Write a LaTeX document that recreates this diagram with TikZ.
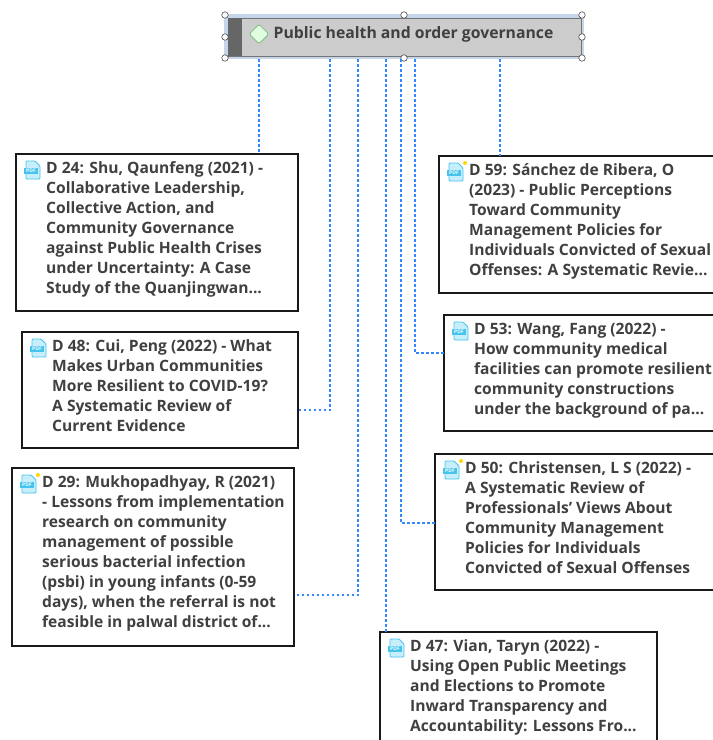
\documentclass[tikz,border=0pt]{standalone}
\usetikzlibrary{shapes.geometric}
\usepackage{fontspec}
\setmainfont{Open Sans}
\definecolor{txt}{HTML}{404040}
\definecolor{lnk}{HTML}{3388FF}
\definecolor{pdfl}{HTML}{C8EEFB}
\definecolor{pdfd}{HTML}{45C4EE}
\definecolor{sel}{HTML}{C5D6EA}
\tikzset{
  x=1pt,y=-1pt,
  pdfnum/.style={font=\bfseries\fontsize{5}{5}\selectfont,text=white,inner sep=0pt},
  docbox/.style={draw=black!90,fill=white,line width=1.6pt,anchor=north west,inner sep=0pt,outer sep=0pt},
  doctext/.style={anchor=north west,align=left,text=txt,inner sep=0pt,
    font=\bfseries\fontsize{15.6}{20}\selectfont},
  link/.style={draw=lnk,line width=1.1pt,dash pattern=on 2.5pt off 2.5pt},
  handle/.style={circle,draw=black!70,fill=white,line width=0.6pt,inner sep=0pt,minimum size=6.5pt},
  newdot/.style={circle,fill=yellow!75!orange,inner sep=0pt,minimum size=4pt}
}
% name, x, y, w, h, lines
\newcommand{\docnode}[6]{%
  \node[docbox,minimum width=#4pt,minimum height=#5pt] (#1) at (#2,#3) {};
  \node[doctext] (#1t) at ([xshift=30pt,yshift=-7.6pt]#1.north west) {#6};
  \begin{scope}[shift={(#1.north west)},x=1pt,y=-1pt]
    \fill[pdfl,draw=pdfd,line width=0.8pt,rounded corners=1pt] (10,7) -- (19,7) -- (24,12) -- (24,25) -- (10,25) -- cycle;
    \fill[pdfd] (8,14) rectangle (22,20);
    \node[pdfnum] (#1i) at (15,17) {PDF};
  \end{scope}}
\newcommand{\newmark}[1]{\node[newdot] (#1d) at ([xshift=26pt,yshift=-7pt]#1.north west) {};}
\begin{document}
\begin{tikzpicture}
\useasboundingbox (0,0) rectangle (713,740);
\clip (0,0) rectangle (713,740);
\fill[white] (0,0) rectangle (713,740);

% header
\node[draw=sel,line width=3.5pt,minimum width=356pt,minimum height=41pt,inner sep=0pt,outer sep=0pt,anchor=north west] (sel) at (226,16) {};
\node[fill=black!20,draw=black!55,line width=1pt,minimum width=353pt,minimum height=38pt,inner sep=0pt,outer sep=0pt,anchor=north west] (top) at (228,18) {};
\fill[black!60] (228,18) rectangle (242,56);
\node[diamond,aspect=1,draw=green!45!black!45,fill=green!12,line width=1pt,minimum size=20pt,inner sep=0pt,rounded corners=1.5pt] (dia) at (259,34) {};
\node[anchor=west,text=txt,inner sep=0pt,font=\bfseries\fontsize{15.75}{18}\selectfont] (title) at (273.5,34) {Public health and order governance};
\foreach \n/\x/\y in {h1/225/15,h2/404/15,h3/582/15,h4/225/37,h5/582/37,h6/225/58,h7/404/58,h8/582/58}
  \node[handle] (\n) at (\x,\y) {};

% documents
\docnode{d24}{16}{154}{282}{157}{D 24: Shu, Qaunfeng (2021) -\\Collaborative Leadership,\\Collective Action, and\\Community Governance\\against Public Health Crises\\under Uncertainty: A Case\\Study of the Quanjingwan...}
\docnode{d48}{22}{332}{276}{116}{D 48: Cui, Peng (2022) - What\\Makes Urban Communities\\More Resilient to COVID-19?\\A Systematic Review of\\Current Evidence}
\docnode{d29}{12}{468}{282}{178}{D 29: Mukhopadhyay, R (2021)\\- Lessons from implementation\\research on community\\management of possible\\serious bacterial infection\\(psbi) in young infants (0-59\\days), when the referral is not\\feasible in palwal district of...}
\docnode{d59}{439}{156}{290}{137}{D 59: Sánchez de Ribera, O\\(2023) - Public Perceptions\\Toward Community\\Management Policies for\\Individuals Convicted of Sexual\\Offenses: A Systematic Revie...}
\docnode{d53}{444}{315}{290}{116}{D 53: Wang, Fang (2022) -\\How community medical\\facilities can promote resilient\\community constructions\\under the background of pa...}
\docnode{d50}{435}{454}{290}{136}{D 50: Christensen, L S (2022) -\\A Systematic Review of\\Professionals’ Views About\\Community Management\\Policies for Individuals\\Convicted of Sexual Offenses}
\docnode{d47}{380}{632}{277}{130}{D 47: Vian, Taryn (2022) -\\Using Open Public Meetings\\and Elections to Promote\\Inward Transparency and\\Accountability: Lessons Fro...}
\newmark{d29}\newmark{d59}\newmark{d50}

% connectors
\coordinate (c24) at (259,59);
\coordinate (c48) at (330,59);
\coordinate (c29) at (358,59);
\coordinate (c47) at (386,59);
\coordinate (c50) at (401,59);
\coordinate (c53) at (415,59);
\coordinate (c59) at (500,59);
\coordinate (e48) at (298,410);
\coordinate (e29) at (294,595);
\coordinate (e50) at (435,523);
\coordinate (e53) at (444,353);
\draw[link] (c24) -- (c24 |- d24.north);
\draw[link] (c48) -- (c48 |- e48) -- (e48);
\draw[link] (c29) -- (c29 |- e29) -- (e29);
\draw[link] (c47) -- (c47 |- d47.north);
\draw[link] (c50) -- (c50 |- e50) -- (e50);
\draw[link] (c53) -- (c53 |- e53) -- (e53);
\draw[link] (c59) -- (c59 |- d59.north);
\end{tikzpicture}
\end{document}
